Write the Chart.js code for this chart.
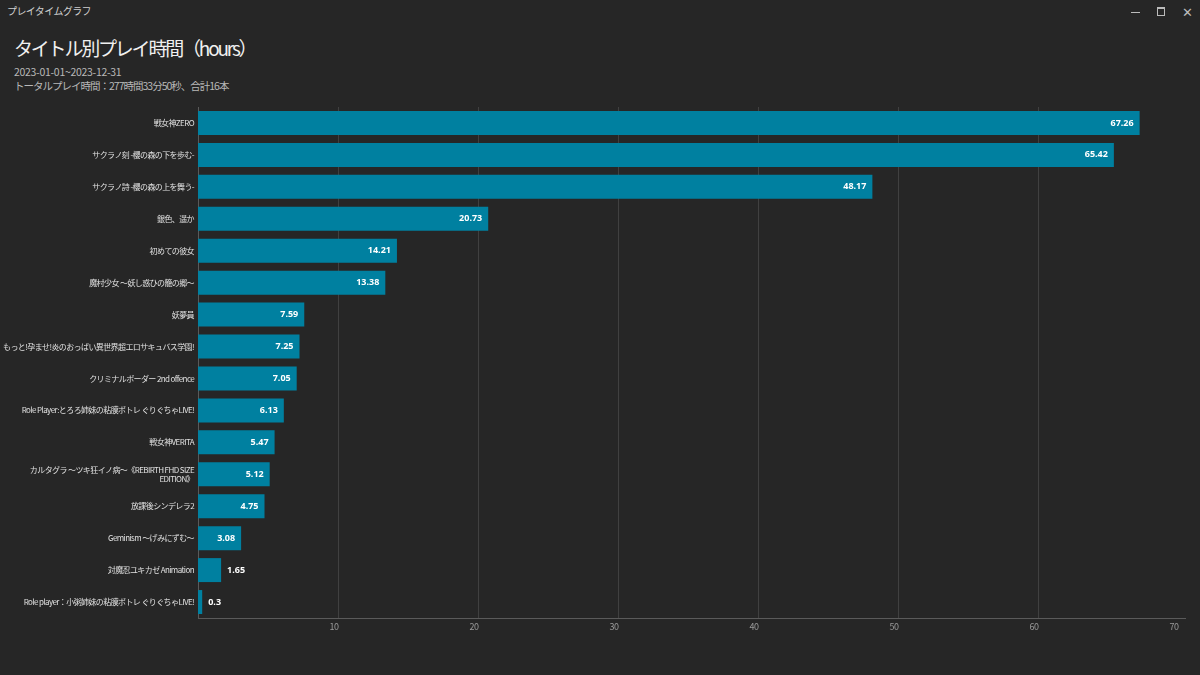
<!DOCTYPE html>
<html>
<head>
<meta charset="utf-8">
<script src="https://cdn.jsdelivr.net/npm/chart.js@4/dist/chart.umd.min.js"></script>
<style>
  html, body { margin: 0; padding: 0; background: #262626; }
  body { width: 1200px; height: 675px; position: relative; overflow: hidden;
         font-family: "Noto Sans CJK JP", "Noto Sans", sans-serif; }
  #chart { position: absolute; left: 0; top: 0; }
  .t { position: absolute; white-space: nowrap; }
  #win { left: 7px; top: 3px; font-size: 10px; color: #cfcfcf; letter-spacing: -0.6px; }
  #title { left: 14px; top: 34px; font-size: 19px; color: #f0f0f0; letter-spacing: -2.2px; }
  #sub1 { left: 14px; top: 64px; font-size: 10.5px; color: #b8b8b8; letter-spacing: -0.3px; }
  #sub2 { left: 14px; top: 78px; font-size: 10.5px; color: #b8b8b8; letter-spacing: -1px; }
  .ctl { position: absolute; }
  #min { left: 1131px; top: 12px; width: 9px; height: 1px; background: #bbb; }
  #max { left: 1157px; top: 7px; width: 6px; height: 6px; border: 1px solid #bbb; border-top-width: 2px; }
  #close { left: 1182px; top: 2px; font-size: 13px; color: #bbb; }
</style>
</head>
<body>
<div class="t" id="win">プレイタイムグラフ</div>
<div class="ctl" id="min"></div>
<div class="ctl" id="max"></div>
<div class="t" id="close">✕</div>
<div class="t" id="title">タイトル別プレイ時間（hours）</div>
<div class="t" id="sub1">2023-01-01~2023-12-31</div>
<div class="t" id="sub2">トータルプレイ時間：277時間33分50秒、合計16本</div>
<canvas id="chart" width="1200" height="675"></canvas>
<script>
const titles = [
  "戦女神ZERO",
  "サクラノ刻 -櫻の森の下を歩む-",
  "サクラノ詩 -櫻の森の上を舞う-",
  "銀色、遥か",
  "初めての彼女",
  "魔村少女 ～妖し惑ひの籠の郷～",
  "妖夢員",
  "もっと!孕ませ!炎のおっぱい異世界超エロサキュバス学園!",
  "クリミナルボーダー 2nd offence",
  "Role Player:とろろ姉妹の粘膜ポトレ ぐりぐちゃLIVE!",
  "戦女神VERITA",
  ["カルタグラ ～ツキ狂イノ病～《REBIRTH FHD SIZE", "EDITION》"],
  "放課後シンデレラ2",
  "Geminism ～げみにずむ～",
  "対魔忍ユキカゼ Animation",
  "Role player：小粥姉妹の粘膜ポトレ ぐりぐちゃLIVE!"
];
const hours = [67.26, 65.42, 48.17, 20.73, 14.21, 13.38, 7.59, 7.25, 7.05, 6.13, 5.47, 5.12, 4.75, 3.08, 1.65, 0.3];
const xTicks = [10, 20, 30, 40, 50, 60, 70];

const barColor = "#0080a0";
const jpFont = '"Noto Sans CJK JP", "Noto Sans", sans-serif';

// tighter letter spacing while the axes are drawn (the original UI font is narrower)
const tightAxes = {
  id: "tightAxes",
  beforeDraw(chart) { chart.ctx.letterSpacing = "-0.6px"; },
  beforeDatasetsDraw(chart) { chart.ctx.letterSpacing = "0px"; }
};

// value labels: inside the bar end, or just outside when the bar is too short
const valueLabels = {
  id: "valueLabels",
  afterDatasetsDraw(chart) {
    const ctx = chart.ctx;
    const meta = chart.getDatasetMeta(0);
    ctx.save();
    ctx.font = 'bold 9px "Noto Sans", "DejaVu Sans", sans-serif';
    ctx.fillStyle = "#ffffff";
    ctx.textBaseline = "middle";
    meta.data.forEach((bar, i) => {
      const txt = String(hours[i]);
      const w = ctx.measureText(txt).width;
      if (bar.x - bar.base > w + 14) {
        ctx.textAlign = "right";
        ctx.fillText(txt, bar.x - 6, bar.y);
      } else {
        ctx.textAlign = "left";
        ctx.fillText(txt, bar.x + 6, bar.y);
      }
    });
    ctx.restore();
  }
};

new Chart(document.getElementById("chart"), {
  type: "bar",
  data: {
    labels: titles,
    datasets: [{
      data: hours,
      backgroundColor: barColor,
      borderWidth: 0,
      categoryPercentage: 1,
      barPercentage: 0.75
    }]
  },
  plugins: [tightAxes, valueLabels],
  options: {
    indexAxis: "y",
    responsive: false,
    animation: false,
    layout: { padding: { top: 107, right: 15, bottom: 37, left: 0 } },
    plugins: { legend: { display: false }, tooltip: { enabled: false } },
    scales: {
      x: {
        min: 0,
        max: 70.5,
        afterFit(s) { s.height = 20; },
        afterBuildTicks(s) { s.ticks = xTicks.map(v => ({ value: v })); },
        grid: {
          drawTicks: false,
          color: ctx => (ctx.tick && ctx.tick.value < 70) ? "#404040" : "rgba(0,0,0,0)"
        },
        border: { color: "#5a5a5a", width: 1 },
        ticks: {
          padding: 3,
          labelOffset: -4,
          color: "#9a9a9a",
          font: { family: jpFont, size: 9 }
        }
      },
      y: {
        afterFit(s) { s.width = 198; },
        grid: { display: false, drawTicks: false },
        border: { color: "#5a5a5a", width: 1 },
        ticks: {
          padding: 4,
          autoSkip: false,
          color: "#e0e0e0",
          font: { family: jpFont, size: 8 }
        }
      }
    }
  }
});
</script>
</body>
</html>
